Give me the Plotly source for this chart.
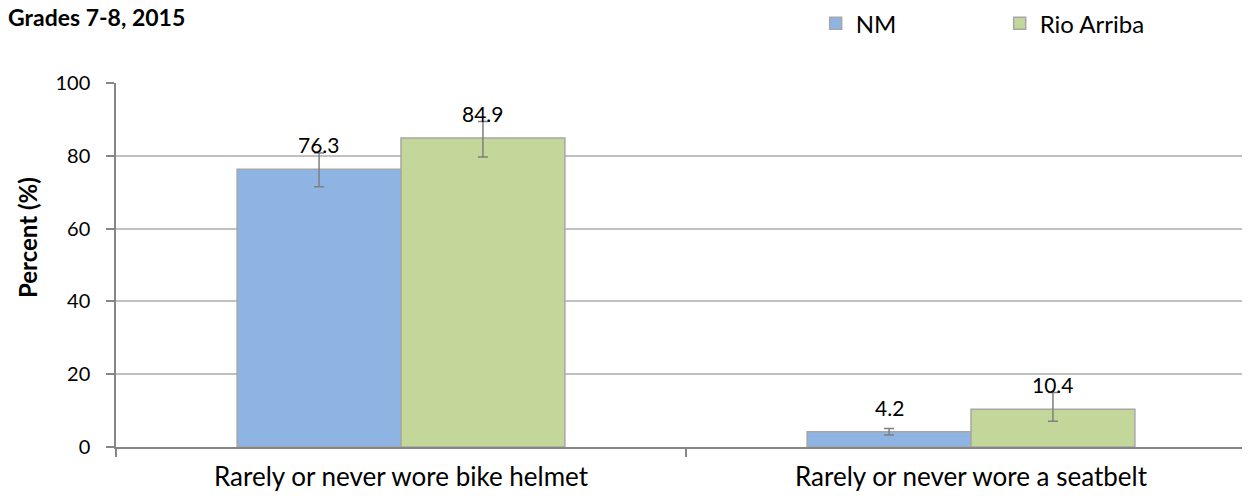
import plotly.graph_objects as go

categories = ["Rarely or never wore bike helmet", "Rarely or never wore a seatbelt"]
series_names = ["NM", "Rio Arriba"]
nm_values = [76.3, 4.2]
nm_err_plus = [4.5, 0.9]
nm_err_minus = [4.8, 0.9]
ra_values = [84.9, 10.4]
ra_err_plus = [4.5, 4.6]
ra_err_minus = [5.2, 3.3]
y_ticks = [0, 20, 40, 60, 80, 100]

FONT = "Lato, Calibri, Carlito, sans-serif"
xpos = list(range(len(categories)))
BARGAP = 0.425
bar_w = (1 - BARGAP) / 2

fig = go.Figure()
series = [
    (series_names[0], nm_values, nm_err_plus, nm_err_minus, "#8EB4E3", -bar_w / 2),
    (series_names[1], ra_values, ra_err_plus, ra_err_minus, "#C4D79B", bar_w / 2),
]
for name, vals, ep, em, color, off in series:
    fig.add_trace(go.Bar(
        x=xpos, y=vals, name=name,
        marker=dict(color=color, line=dict(color="#A6A6A6", width=1.5)),
        error_y=dict(type="data", array=ep, arrayminus=em, symmetric=False,
                     color="#7F7F7F", thickness=1.5, width=5),
        cliponaxis=False,
    ))
    for xi, v in zip(xpos, vals):
        fig.add_annotation(x=xi + off, y=v, xref="x", yref="y", text=f"{v:.1f}",
                           showarrow=False, yanchor="bottom", yshift=10,
                           font=dict(family=FONT, size=21, color="#000000"))

# y-axis title (placed like the original, above the plot's vertical centre)
fig.add_annotation(text="<b>Percent (%)</b>", xref="paper", yref="paper",
                   x=0, y=0.574, xanchor="center", yanchor="middle", xshift=-89,
                   textangle=-90, showarrow=False,
                   font=dict(family=FONT, size=24, color="#000000"))

fig.update_layout(
    width=1250, height=496,
    margin=dict(l=108, r=8, t=75, b=57, autoexpand=False),
    paper_bgcolor="white", plot_bgcolor="white",
    barmode="group", bargap=BARGAP, bargroupgap=0,
    font=dict(family=FONT, size=20, color="#000000"),
    title=dict(text="<b>Grades 7-8, 2015</b>", x=0.0, xref="container", xanchor="left",
               y=1 - 2 / 496, yref="container", yanchor="top",
               font=dict(family=FONT, size=23, color="#000000")),
    legend=dict(orientation="h", x=0.617, xanchor="left", y=1.225, yanchor="top",
                font=dict(family=FONT, size=24), entrywidth=139, entrywidthmode="pixels",
                itemwidth=30, bgcolor="rgba(0,0,0,0)"),
    showlegend=True,
)
fig.update_xaxes(
    range=[-0.5, -0.5 + 1134 / 570], automargin=False,
    tickvals=xpos, ticktext=categories, ticks="", ticklabelstandoff=6,
    tickfont=dict(family=FONT, size=26),
    showline=True, linecolor="#868686", linewidth=1.5,
    showgrid=False, zeroline=False,
    minor=dict(tickvals=[-0.5, 0.5, 1.5], ticks="outside", ticklen=8,
               tickcolor="#868686", tickwidth=1.5, showgrid=False),
)
fig.update_yaxes(
    range=[0, 100], tickvals=y_ticks, automargin=False,
    ticks="outside", ticklen=8, tickcolor="#868686", tickwidth=1.5, ticklabelstandoff=12,
    showline=True, linecolor="#868686", linewidth=1.5,
    showgrid=True, gridcolor="#C0C0C0", gridwidth=1.5, zeroline=False,
    tickfont=dict(family=FONT, size=20),
)

fig.write_html("out.html")
